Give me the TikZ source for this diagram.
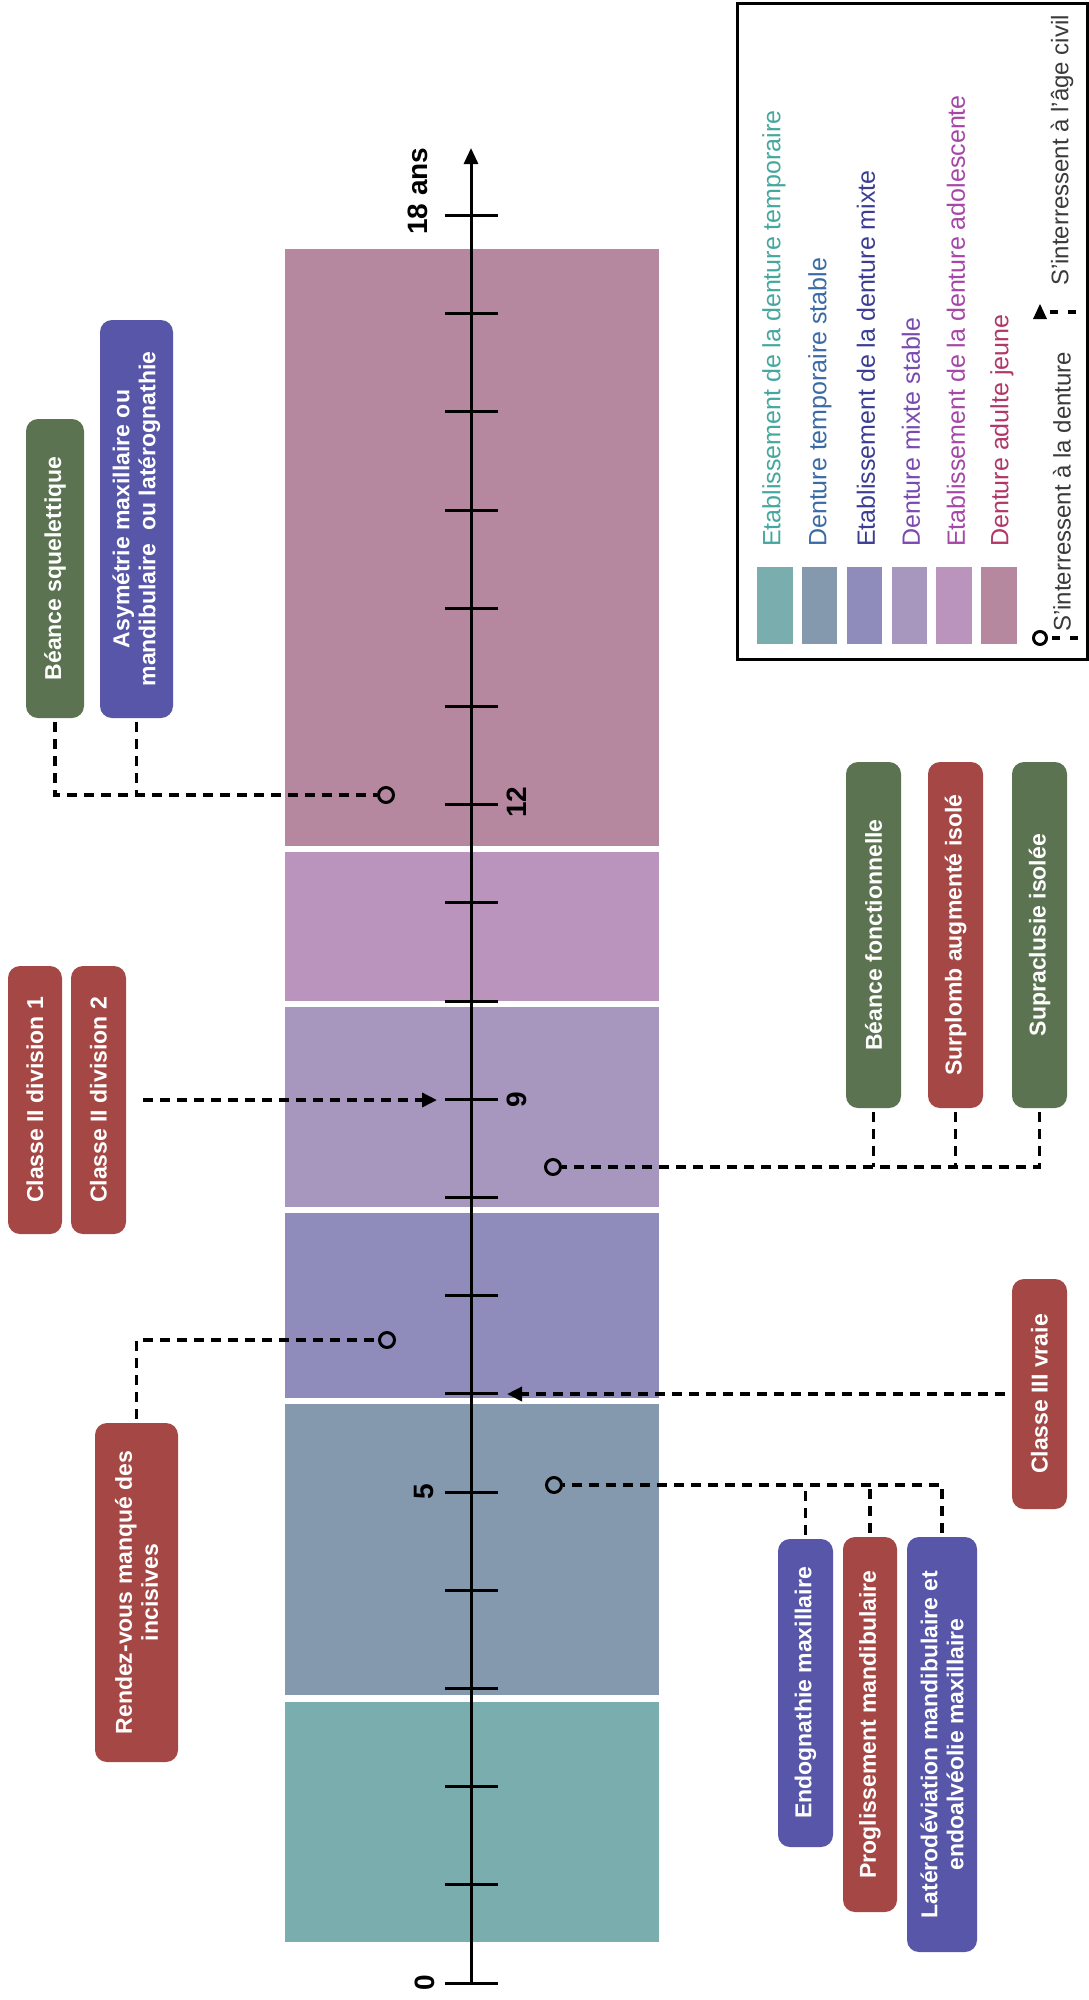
\documentclass[tikz,border=0pt]{standalone}
\usepackage{fontspec}
\setmainfont{Liberation Sans}
\usetikzlibrary{arrows.meta}
\definecolor{cAdulte}{HTML}{B5889F}
\definecolor{cAdo}{HTML}{BB94BE}
\definecolor{cMixS}{HTML}{A797BE}
\definecolor{cMixE}{HTML}{8F8BBA}
\definecolor{cTmpS}{HTML}{8599AE}
\definecolor{cTmpE}{HTML}{7AADAE}
\definecolor{bGreen}{HTML}{5B7351}
\definecolor{bRed}{HTML}{A54845}
\definecolor{bBlue}{HTML}{5756A8}
\definecolor{tTeal}{HTML}{45A89E}
\definecolor{tBlue}{HTML}{3B6BA6}
\definecolor{tIndigo}{HTML}{3A3D92}
\definecolor{tPurple}{HTML}{7A4AB0}
\definecolor{tMagenta}{HTML}{A647A8}
\definecolor{tCrimson}{HTML}{B03868}
\definecolor{tGrey}{HTML}{3A3A3A}
\begin{document}
\begin{tikzpicture}[x=1pt,y=-1pt,
  box/.style={rounded corners=12pt, rotate=90, inner sep=0pt, align=center,
    text=white, font=\fontsize{23}{26}\selectfont\bfseries},
  dline/.style={line width=3.5pt, dash pattern=on 10pt off 7pt},
  ring/.style={circle, draw=black, line width=3pt, minimum size=15pt, inner sep=0pt},
  tipr/.style={-{Triangle[length=15pt,width=14pt]}},
  ticklab/.style={rotate=90, inner sep=0pt, font=\fontsize{28}{30}\selectfont\bfseries},
  legtext/.style={rotate=90, anchor=west, inner sep=0pt, font=\fontsize{25}{28}\selectfont},
  legsym/.style={rotate=90, anchor=west, inner sep=0pt, text=tGrey, font=\fontsize{24}{27}\selectfont}]
\useasboundingbox (0,0) rectangle (1089,2000);
\fill[white] (0,0) rectangle (1089,2000);

% bands
\fill[cAdulte] (285,249) rectangle (659,846);
\fill[cAdo]    (285,852) rectangle (659,1001);
\fill[cMixS]   (285,1007) rectangle (659,1207);
\fill[cMixE]   (285,1213) rectangle (659,1398);
\fill[cTmpS]   (285,1404) rectangle (659,1695);
\fill[cTmpE]   (285,1702) rectangle (659,1942);

% axis
\coordinate (ax0) at (471,1983);
\coordinate (axtop) at (471,148);
\draw[line width=3pt, -{Triangle[length=16pt,width=14pt]}] (ax0) -- (axtop);
\foreach \t in {0,...,18}
  \draw[line width=3pt] (445,{1983-98.2*\t}) -- (498,{1983-98.2*\t});

\node[ticklab] (l18) at (418,191) {18 ans};
\node[ticklab] (l12) at (517,802) {12};
\node[ticklab] (l9)  at (517,1100) {9};
\node[ticklab] (l5)  at (424,1492) {5};
\node[ticklab] (l0)  at (425,1983) {0};

% boxes
\node[box, fill=bGreen, minimum width=299pt, minimum height=58pt] (bsq) at (55,568.5) {Béance squelettique};
\node[box, fill=bBlue, minimum width=398pt, minimum height=73pt] (asym) at (136.5,519) {Asymétrie maxillaire ou\\mandibulaire\ \ ou latérognathie};
\node[box, fill=bRed, minimum width=268pt, minimum height=54pt] (c2a) at (35,1100) {Classe II division 1};
\node[box, fill=bRed, minimum width=268pt, minimum height=55pt] (c2b) at (98.5,1100) {Classe II division 2};
\node[box, fill=bRed, minimum width=339pt, minimum height=83pt] (rv) at (136.5,1592.5) {Rendez-vous manqué des\\incisives};
\node[box, fill=bGreen, minimum width=346pt, minimum height=55pt] (bf) at (873.5,935) {Béance fonctionnelle};
\node[box, fill=bRed, minimum width=346pt, minimum height=55pt] (sa) at (955.5,935) {Surplomb augmenté isolé};
\node[box, fill=bGreen, minimum width=346pt, minimum height=55pt] (si) at (1039.5,935) {Supraclusie isolée};
\node[box, fill=bRed, minimum width=230pt, minimum height=55pt] (c3) at (1039.5,1394) {Classe III vraie};
\node[box, fill=bBlue, minimum width=308pt, minimum height=55pt] (en) at (805.5,1693) {Endognathie maxillaire};
\node[box, fill=bRed, minimum width=375pt, minimum height=54pt] (pm) at (870,1724.5) {Proglissement mandibulaire};
\node[box, fill=bBlue, minimum width=415pt, minimum height=70pt] (lat) at (942,1744.5) {Latérodéviation mandibulaire et\\endoalvéolie maxillaire};

% rings and arrow targets
\node[ring] (r12) at (386,795) {};
\node[ring] (rrv) at (387,1340) {};
\node[ring] (r9) at (553,1167) {};
\node[ring] (r5) at (554,1485) {};
\coordinate (a9) at (437,1100);
\coordinate (a6) at (507,1394);

% connectors
\draw[dline, shorten <=4pt] (bsq.west) |- (r12.west);
\draw[dline, shorten <=4pt] (asym.west) -- (asym.west |- r12);
\draw[dline, tipr, shorten <=17pt] (c2b.south) -- (a9);
\draw[dline, shorten <=4pt] (rv.east) |- (rrv.west);
\draw[dline, shorten <=4pt] (si.west) |- (r9.east);
\draw[dline, shorten <=4pt] (bf.west) -- (bf.west |- r9);
\draw[dline, shorten <=4pt] (sa.west) -- (sa.west |- r9);
\draw[dline, tipr, shorten <=7pt] (c3.north) -- (a6);
\draw[dline, shorten <=4pt] (lat.east) |- (r5.east);
\draw[dline, shorten <=4pt] (en.east) -- (en.east |- r5);
\draw[dline, shorten <=4pt] (pm.east) -- (pm.east |- r5);

% legend
\draw[line width=3pt] (737,3) rectangle (1087,659);
\fill[cTmpE]   (757,567) rectangle (793,644);
\fill[cTmpS]   (802,567) rectangle (837,644);
\fill[cMixE]   (847,567) rectangle (882,644);
\fill[cMixS]   (892,567) rectangle (927,644);
\fill[cAdo]    (936,567) rectangle (972,644);
\fill[cAdulte] (981,567) rectangle (1017,644);
\node[legtext, text=tTeal]    (g1) at (774,547) {Etablissement de la denture temporaire};
\node[legtext, text=tBlue]    (g2) at (820,547) {Denture temporaire stable};
\node[legtext, text=tIndigo]  (g3) at (866,547) {Etablissement de la denture mixte};
\node[legtext, text=tPurple]  (g4) at (911,547) {Denture mixte stable};
\node[legtext, text=tMagenta] (g5) at (956,547) {Etablissement de la denture adolescente};
\node[legtext, text=tCrimson] (g6) at (1002,547) {Denture adulte jeune};
\node[ring, minimum size=13pt] (lring) at (1040,638) {};
\coordinate (lringend) at (1085,638);
\draw[line width=3.5pt, dash pattern=on 8pt off 10pt, shorten <=4pt] (lring.east) -- (lringend);
\node[legsym] (s1) at (1062,632) {S'interressent à la denture};
\fill (1033,319) -- (1047,319) -- (1040,304) -- cycle;
\coordinate (larr) at (1050,312);
\coordinate (larrend) at (1085,312);
\draw[line width=3.5pt, dash pattern=on 8pt off 10pt] (larr) -- (larrend);
\node[legsym] (s2) at (1062,286) {S'interressent à l'âge civil};
\end{tikzpicture}
\end{document}
